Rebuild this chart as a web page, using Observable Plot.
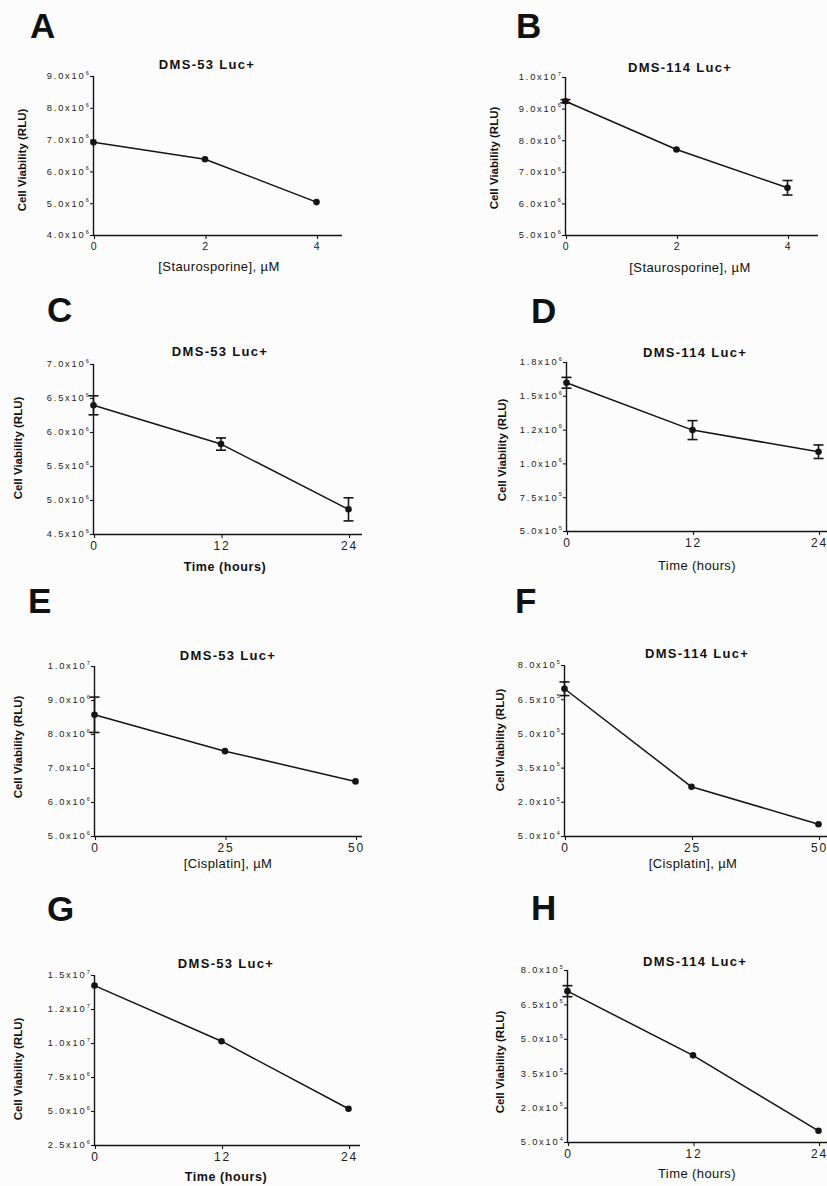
<!DOCTYPE html>
<html><head><meta charset="utf-8">
<script src="https://cdn.jsdelivr.net/npm/d3@7"></script>
<script src="https://cdn.jsdelivr.net/npm/@observablehq/plot@0.6"></script>
<style>
html,body{margin:0;padding:0;background:#fcfcfc;overflow:hidden;}
#fig{position:relative;width:827px;height:1186px;overflow:hidden;font-family:"Liberation Sans",Arial,sans-serif;color:#111;background:#fcfcfc;}
.t{position:absolute;white-space:nowrap;line-height:1;}
</style></head><body><div id="fig"></div>
<script>
// ---------- data ----------
const aX = [0, 2, 4], aY = [6.93e6, 6.40e6, 5.05e6], aErr = [0, 0, 0];
const bX = [0, 2, 4], bY = [9.25e6, 7.72e6, 6.51e6], bErr = [0.05e6, 0, 0.23e6];
const cX = [0, 12, 24], cY = [6.40e6, 5.83e6, 4.87e6], cErr = [0.14e6, 0.09e6, 0.17e6];
const dX = [0, 12, 24], dY = [1.60e6, 1.25e6, 1.09e6], dErr = [0.04e6, 0.07e6, 0.05e6];
const eX = [0, 25, 50], eY = [8.58e6, 7.51e6, 6.62e6], eErr = [0.52e6, 0, 0];
const fX = [0, 25, 50], fY = [6.98e5, 2.68e5, 1.04e5], fErr = [0.3e5, 0, 0];
const gX = [0, 12, 24], gY = [14.26e6, 10.17e6, 5.2e6], gErr = [0, 0, 0];
const hX = [0, 12, 24], hY = [7.1e5, 4.3e5, 1.01e5], hErr = [0.24e5, 0, 0];

const yTicksA = [4e6, 5e6, 6e6, 7e6, 8e6, 9e6];
const yLabelsA = ["4.0x10^6", "5.0x10^6", "6.0x10^6", "7.0x10^6", "8.0x10^6", "9.0x10^6"];
const yTicksB = [5e6, 6e6, 7e6, 8e6, 9e6, 1e7];
const yLabelsB = ["5.0x10^6", "6.0x10^6", "7.0x10^6", "8.0x10^6", "9.0x10^6", "1.0x10^7"];
const yTicksC = [4.5e6, 5e6, 5.5e6, 6e6, 6.5e6, 7e6];
const yLabelsC = ["4.5x10^6", "5.0x10^6", "5.5x10^6", "6.0x10^6", "6.5x10^6", "7.0x10^6"];
const yTicksD = [5e5, 7.5e5, 1e6, 1.25e6, 1.5e6, 1.75e6];
const yLabelsD = ["5.0x10^5", "7.5x10^5", "1.0x10^6", "1.2x10^6", "1.5x10^6", "1.8x10^6"];
const yTicksE = [5e6, 6e6, 7e6, 8e6, 9e6, 1e7];
const yLabelsE = ["5.0x10^6", "6.0x10^6", "7.0x10^6", "8.0x10^6", "9.0x10^6", "1.0x10^7"];
const yTicksF = [5e4, 2e5, 3.5e5, 5e5, 6.5e5, 8e5];
const yLabelsF = ["5.0x10^4", "2.0x10^5", "3.5x10^5", "5.0x10^5", "6.5x10^5", "8.0x10^5"];
const yTicksG = [2.5e6, 5e6, 7.5e6, 1e7, 1.25e7, 1.5e7];
const yLabelsG = ["2.5x10^6", "5.0x10^6", "7.5x10^6", "1.0x10^7", "1.2x10^7", "1.5x10^7"];
const yTicksH = [5e4, 2e5, 3.5e5, 5e5, 6.5e5, 8e5];
const yLabelsH = ["5.0x10^4", "2.0x10^5", "3.5x10^5", "5.0x10^5", "6.5x10^5", "8.0x10^5"];

const xTicksStauro = [0, 2, 4];
const xTicksTime = [0, 12, 24];
const xTicksCis = [0, 25, 50];

const letters = ["A", "B", "C", "D", "E", "F", "G", "H"];
const titles = ["DMS-53 Luc+", "DMS-114 Luc+", "DMS-53 Luc+", "DMS-114 Luc+", "DMS-53 Luc+", "DMS-114 Luc+", "DMS-53 Luc+", "DMS-114 Luc+"];
const xLabels = ["[Staurosporine],  \u00b5M", "[Staurosporine],  \u00b5M", "Time (hours)", "Time (hours)", "[Cisplatin],  \u00b5M", "[Cisplatin],  \u00b5M", "Time (hours)", "Time (hours)"];
const yLabel = "Cell Viability (RLU)";

const panels = [
  {x: aX, y: aY, err: aErr, xTicks: xTicksStauro, yTicks: yTicksA, yLabels: yLabelsA},
  {x: bX, y: bY, err: bErr, xTicks: xTicksStauro, yTicks: yTicksB, yLabels: yLabelsB},
  {x: cX, y: cY, err: cErr, xTicks: xTicksTime, yTicks: yTicksC, yLabels: yLabelsC},
  {x: dX, y: dY, err: dErr, xTicks: xTicksTime, yTicks: yTicksD, yLabels: yLabelsD},
  {x: eX, y: eY, err: eErr, xTicks: xTicksCis, yTicks: yTicksE, yLabels: yLabelsE},
  {x: fX, y: fY, err: fErr, xTicks: xTicksCis, yTicks: yTicksF, yLabels: yLabelsF},
  {x: gX, y: gY, err: gErr, xTicks: xTicksTime, yTicks: yTicksG, yLabels: yLabelsG},
  {x: hX, y: hY, err: hErr, xTicks: xTicksTime, yTicks: yTicksH, yLabels: yLabelsH}
];

// ---------- layout (pixels) ----------
const layout = [
  {x0: 93, xLastPx: 316, xEndPx: 342, yTop: 76, yBot: 235, letter: [30, 38], title: [207, 69], yLab: [23, 160], xLab: [219, 271], xfs: 10.5, xBold: false},
  {x0: 565, xLastPx: 787, xEndPx: 818, yTop: 77, yBot: 235, letter: [516, 38], title: [680, 72], yLab: [495, 158], xLab: [690, 272], xfs: 10.5, xBold: false},
  {x0: 93, xLastPx: 348, xEndPx: 362, yTop: 364, yBot: 534, letter: [47, 322], title: [220, 356], yLab: [19, 448], xLab: [225, 572], xfs: 12, xBold: true},
  {x0: 566, xLastPx: 818, xEndPx: 845, yTop: 362, yBot: 531, letter: [531, 323], title: [695, 357], yLab: [503, 450], xLab: [697, 570], xfs: 12, xBold: false},
  {x0: 94, xLastPx: 355, xEndPx: 362, yTop: 666, yBot: 836, letter: [28, 613], title: [228, 660], yLab: [19, 747], xLab: [228, 868], xfs: 12, xBold: false},
  {x0: 564, xLastPx: 818, xEndPx: 845, yTop: 665, yBot: 836, letter: [515, 613], title: [697, 658], yLab: [501, 740], xLab: [693, 868], xfs: 12, xBold: false},
  {x0: 94, xLastPx: 348, xEndPx: 360, yTop: 975, yBot: 1145, letter: [47, 921], title: [226, 968], yLab: [19, 1069], xLab: [226, 1182], xfs: 12, xBold: true},
  {x0: 567, xLastPx: 818, xEndPx: 845, yTop: 970, yBot: 1142, letter: [531, 920], title: [695, 966], yLab: [501, 1062], xLab: [697, 1178], xfs: 12, xBold: false}
];

const fig = document.getElementById("fig");
const INK = "#141414";

function addText(txt, x, baseline, fs, opts = {}) {
  const d = document.createElement("div");
  d.className = "t";
  d.textContent = txt;
  d.style.fontSize = fs + "px";
  d.style.fontWeight = opts.bold ? "bold" : "normal";
  if (opts.ls) d.style.letterSpacing = opts.ls + "px";
  d.style.left = x + "px";
  d.style.top = (baseline - 0.8465 * fs) + "px";
  if (opts.center) d.style.transform = "translateX(-50%)";
  fig.appendChild(d);
}
function addRotated(txt, cx, cy, fs, bold) {
  const d = document.createElement("div");
  d.className = "t";
  d.textContent = txt;
  d.style.fontSize = fs + "px";
  d.style.fontWeight = bold ? "bold" : "normal";
  d.style.left = cx + "px";
  d.style.top = cy + "px";
  d.style.transform = "translate(-50%,-50%) rotate(-90deg)";
  fig.appendChild(d);
}

const cap = {draw(ctx, size) { const w = Math.sqrt(size / Math.PI); ctx.moveTo(-w, 0); ctx.lineTo(w, 0); }};

panels.forEach((p, i) => {
  const L = layout[i];
  const ml = 75, mt = 14, mr = 40, mb = 30;
  const xLast = p.xTicks[p.xTicks.length - 1];
  const width = ml + (L.xLastPx - L.x0) + mr;
  const height = mt + (L.yBot - L.yTop) + mb;
  const ymin = p.yTicks[0], ymax = p.yTicks[p.yTicks.length - 1];
  const xEnd = xLast * (L.xEndPx - L.x0) / (L.xLastPx - L.x0);
  const rows = p.x.map((x, j) => ({x, y: p.y[j], lo: p.y[j] - p.err[j], hi: p.y[j] + p.err[j], err: p.err[j]}));
  const bars = rows.filter(d => d.err > 0);
  const tickRows = p.yTicks.map((v, j) => { const [m, e] = p.yLabels[j].split("^"); return {v, m, e}; });

  const svg = Plot.plot({
    width, height, marginLeft: ml, marginRight: mr, marginTop: mt, marginBottom: mb,
    style: `position:absolute;left:${L.x0 - ml}px;top:${L.yTop - mt}px;overflow:visible;background:transparent;max-width:none;font-family:'Liberation Sans',Arial,sans-serif;color:${INK};letter-spacing:1.8px;`,
    x: {domain: [0, xLast]},
    y: {domain: [ymin, ymax]},
    marks: [
      Plot.ruleX([0], {y1: ymin, y2: ymax, stroke: INK, strokeWidth: 1.4}),
      Plot.ruleY([ymin], {x1: 0, x2: xEnd, stroke: INK, strokeWidth: 1.4}),
      Plot.axisY({ticks: p.yTicks, tickSize: 3, tickFormat: () => "", label: null, strokeWidth: 1.1}),
      Plot.text(tickRows, {x: 0, y: "v", text: "m", textAnchor: "end", dx: -8, fontSize: 9.3, fill: "#222"}),
      Plot.text(tickRows, {x: 0, y: "v", text: "e", textAnchor: "end", dx: -3, dy: -3.5, fontSize: 5.5, fill: "#222"}),
      Plot.axisX({ticks: p.xTicks, tickSize: 4, tickPadding: 3, fontSize: L.xfs, label: null, strokeWidth: 1.1, tickFormat: d => String(d), dx: 1, fill: "#222"}),
      Plot.line(rows, {x: "x", y: "y", stroke: INK, strokeWidth: 1.5}),
      Plot.ruleX(bars, {x: "x", y1: "lo", y2: "hi", stroke: INK, strokeWidth: 1.6}),
      Plot.dot(bars, {x: "x", y: "hi", symbol: cap, r: 5, stroke: INK, fill: "none", strokeWidth: 1.6}),
      Plot.dot(bars, {x: "x", y: "lo", symbol: cap, r: 5, stroke: INK, fill: "none", strokeWidth: 1.6}),
      Plot.dot(rows, {x: "x", y: "y", r: 3.3, fill: INK, stroke: "none"})
    ]
  });
  fig.appendChild(svg);

  addText(letters[i], L.letter[0], L.letter[1], 35, {bold: true});
  addText(titles[i], L.title[0], L.title[1], 13, {bold: true, center: true, ls: 1.3});
  addRotated(yLabel, L.yLab[0], L.yLab[1], 11.5, true);
  if (L.xBold) addText(xLabels[i], L.xLab[0], L.xLab[1], 12.5, {center: true, bold: true, ls: 0.6});
  else addText(xLabels[i], L.xLab[0], L.xLab[1], 13, {center: true, ls: 0.4});
});
</script>
</body></html>
